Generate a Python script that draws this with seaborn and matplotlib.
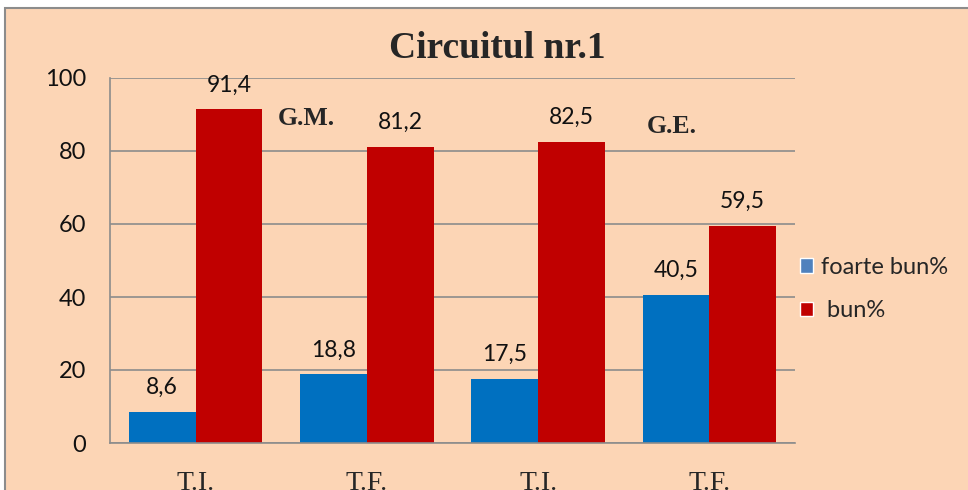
import pandas as pd
import seaborn as sns
import matplotlib.pyplot as plt
from matplotlib.patches import Rectangle, Patch

# Chart data
categories = ['T.I.', 'T.F.', 'T.I. ', 'T.F. ']
foarte_bun = [8.6, 18.8, 17.5, 40.5]
bun = [91.4, 81.2, 82.5, 59.5]
series_names = ['foarte bun%', 'bun%']

df = pd.DataFrame({
    'cat': categories * 2,
    'val': foarte_bun + bun,
    'serie': [series_names[0]] * 4 + [series_names[1]] * 4,
})

peach = '#FCD5B5'
blue = '#0070C0'
red = '#C00000'
grid_col = '#8C8C8C'

sns.set_style('white')
plt.rcParams['font.family'] = ['Lato', 'DejaVu Sans']

fig = plt.figure(figsize=(9.68, 4.9), dpi=100)
fig.patch.set_facecolor('white')
# peach chart frame
fig.patches.append(Rectangle((5 / 968, -0.05), 1.2, 1 - 8 / 490 + 0.05,
                             transform=fig.transFigure, facecolor=peach,
                             edgecolor='#8C8C8C', linewidth=1.5, zorder=-10))

ax = fig.add_axes([110 / 968, 47 / 490, 685 / 968, 365 / 490])
ax.set_facecolor('none')
ax.set_zorder(5)

sns.barplot(data=df, x='cat', y='val', hue='serie', order=categories,
            palette=[blue, red], width=0.78, saturation=1, legend=False,
            linewidth=0, ax=ax)

for cont, vals in zip(ax.containers, [foarte_bun, bun]):
    ax.bar_label(cont, labels=[f'{v:.1f}'.replace('.', ',') for v in vals],
                 padding=10, fontsize=16.5, color='#111111')

ax.set_ylim(0, 100)
ax.set_xlim(-0.5, 3.5)
ax.set_yticks(range(0, 101, 20))
ax.yaxis.grid(True, color=grid_col, linewidth=1.2)
ax.set_axisbelow(True)
for s in ['top', 'right']:
    ax.spines[s].set_visible(False)
for s in ['left', 'bottom']:
    ax.spines[s].set_color(grid_col)
    ax.spines[s].set_linewidth(1.2)
ax.tick_params(axis='y', length=0, pad=17, labelsize=17, labelcolor='#111111')
ax.tick_params(axis='x', length=0, pad=20)
ax.set_xticks(range(4))
ax.set_xticklabels([c.strip() for c in categories], family='Liberation Serif',
                   fontsize=20)
ax.set_xlabel('')
ax.set_ylabel('')

ax.text(0.645, 88.8, 'G.M.', ha='center', va='center', family='Liberation Serif',
        fontweight='bold', fontsize=18.5)
ax.text(2.78, 86.6, 'G.E.', ha='center', va='center', family='Liberation Serif',
        fontweight='bold', fontsize=18.5)

fig.text(497 / 968, 1 - 48 / 490, 'Circuitul nr.1', ha='center', va='center',
         family='Liberation Serif', fontweight='bold', fontsize=27)

handles = [Patch(facecolor='#4F81BD'), Patch(facecolor=red)]
ax.legend(handles, [series_names[0], ' ' + series_names[1]], loc='center left',
          bbox_to_anchor=(1.007, 0.422), borderaxespad=0, borderpad=0,
          frameon=False, fontsize=17, handlelength=0.55, handleheight=0.55,
          handletextpad=0.35, labelspacing=0.95)

fig.savefig('out.png', dpi=100, facecolor=fig.get_facecolor())
